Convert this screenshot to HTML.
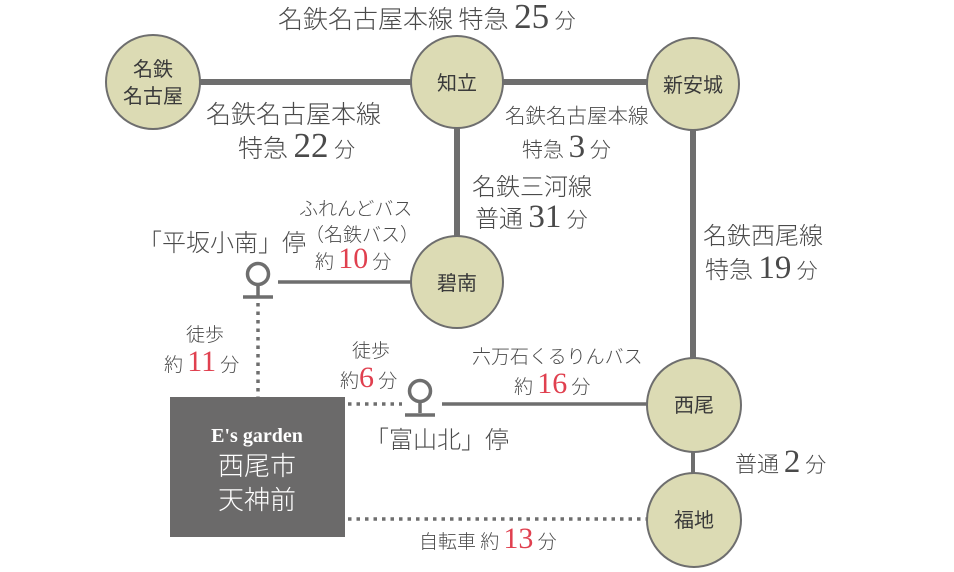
<!DOCTYPE html>
<html><head><meta charset="utf-8"><style>
html,body{margin:0;padding:0;background:#fff;width:954px;height:572px;overflow:hidden}
svg{display:block}
text{font-family:"Noto Sans CJK JP",sans-serif;fill:#4a4a4a;font-weight:300}
.n{font-family:"Liberation Serif","Noto Serif CJK SC",serif;font-weight:400}
.r{fill:#e0404f}
</style></head><body>
<svg width="954" height="572" viewBox="0 0 954 572">
<g stroke="#6e6e6e" fill="none">
<line x1="153" y1="82" x2="693" y2="82" stroke-width="6"/>
<line x1="457" y1="82" x2="457" y2="282" stroke-width="6"/>
<line x1="693" y1="82" x2="693" y2="404" stroke-width="6"/>
<line x1="693" y1="404" x2="693" y2="520" stroke-width="4"/>
<line x1="278" y1="282" x2="440" y2="282" stroke-width="3.5"/>
<line x1="442" y1="404" x2="660" y2="404" stroke-width="3.5"/>
<g stroke-width="3.5" stroke-dasharray="3.5 5" stroke-linecap="butt">
<line x1="258" y1="303" x2="258" y2="397"/>
<line x1="348" y1="404" x2="402" y2="404"/>
<line x1="348" y1="519" x2="650" y2="519"/>
</g>
<circle cx="258" cy="274" r="10.5" stroke-width="3.5"/>
<line x1="258" y1="285" x2="258" y2="296" stroke-width="3.5"/>
<line x1="243" y1="297" x2="273" y2="297" stroke-width="3.5"/>
<circle cx="420" cy="391" r="10.5" stroke-width="3.5"/>
<line x1="420" y1="402" x2="420" y2="413" stroke-width="3.5"/>
<line x1="405" y1="415" x2="435" y2="415" stroke-width="3.5"/>
</g>
<g fill="#dcdbb4" stroke="#6e6e6e" stroke-width="2">
<circle cx="153" cy="82" r="47"/>
<circle cx="457" cy="82" r="46"/>
<circle cx="693" cy="84" r="46"/>
<circle cx="457" cy="282" r="46"/>
<circle cx="694" cy="405" r="47"/>
<circle cx="694" cy="520" r="47"/>
</g>
<rect x="170" y="397" width="175" height="140" fill="#6b6a6a"/>
<g font-size="20" text-anchor="middle" style="font-weight:400">
<text x="153" y="76" style="fill:#3a3a3a;font-weight:400">名鉄</text><text x="153" y="103" style="fill:#3a3a3a;font-weight:400">名古屋</text>
<text x="457" y="90" style="fill:#3a3a3a;font-weight:400">知立</text>
<text x="693" y="92" style="fill:#3a3a3a;font-weight:400">新安城</text>
<text x="457" y="290" style="fill:#3a3a3a;font-weight:400">碧南</text>
<text x="694" y="412" style="fill:#3a3a3a;font-weight:400">西尾</text>
<text x="694" y="527" style="fill:#3a3a3a;font-weight:400">福地</text>
</g>
<g text-anchor="middle">
<text x="257" y="442" font-size="20" class="n" style="fill:#fff;font-weight:bold">E's garden</text>
<text x="257" y="475" font-size="26" style="fill:#fff">西尾市</text>
<text x="257" y="509" font-size="26" style="fill:#fff">天神前</text>
</g>
<g font-size="25">
<text x="278" y="28">名鉄名古屋本線 特急 <tspan class="n" font-size="35">25</tspan>  <tspan font-size="21">分</tspan></text>
<text x="206" y="123">名鉄名古屋本線</text>
<text x="238" y="157">特急 <tspan class="n" font-size="35">22</tspan> <tspan font-size="21">分</tspan></text>
<text x="505" y="123" font-size="20.5">名鉄名古屋本線</text>
<text x="522" y="157" font-size="21">特急 <tspan class="n" font-size="33">3</tspan> <tspan font-size="21">分</tspan></text>
<text x="472" y="195" font-size="24">名鉄三河線</text>
<text x="475" y="227" font-size="24">普通 <tspan class="n" font-size="33">31</tspan> <tspan font-size="21">分</tspan></text>
<text x="703" y="244" font-size="24">名鉄西尾線</text>
<text x="705" y="278" font-size="24">特急 <tspan class="n" font-size="33">19</tspan> <tspan font-size="21">分</tspan></text>
<text x="138" y="251" font-size="24">「平坂小南」停</text>
<text x="365" y="448" font-size="24">「富山北」停</text>
<text x="735" y="472" font-size="22">普通 <tspan class="n" font-size="33">2</tspan> <tspan font-size="21">分</tspan></text>
</g>
<g font-size="19">
<text x="299" y="215">ふれんどバス</text>
<text x="305" y="241">（名鉄バス）</text>
<text x="315" y="268">約 <tspan class="n r" font-size="30">10</tspan> <tspan>分</tspan></text>
<text x="186" y="341">徒歩</text>
<text x="164" y="371">約 <tspan class="n r" font-size="30">11</tspan> <tspan>分</tspan></text>
<text x="352" y="357">徒歩</text>
<text x="340" y="387">約<tspan class="n r" font-size="30">6</tspan> <tspan>分</tspan></text>
<text x="472" y="363">六万石くるりんバス</text>
<text x="514" y="393">約 <tspan class="n r" font-size="30">16</tspan> <tspan>分</tspan></text>
<text x="419" y="548">自転車 約 <tspan class="n r" font-size="30">13</tspan> <tspan>分</tspan></text>
</g>
</svg>
</body></html>
